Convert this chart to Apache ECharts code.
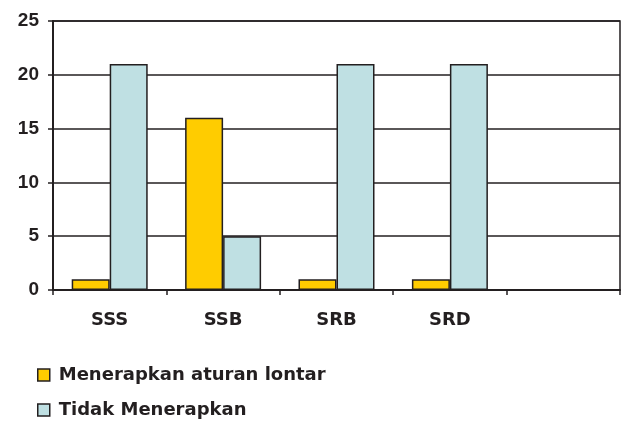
<!DOCTYPE html>
<html>
<head>
<meta charset="utf-8">
<script src="https://cdn.jsdelivr.net/npm/echarts@6/dist/echarts.min.js"></script>
<style>
html,body{margin:0;padding:0;background:#fff;}
#chart{width:628px;height:423px;}
</style>
</head>
<body>
<div id="chart"></div>
<script>
const categories = ['SSS', 'SSB', 'SRB', 'SRD', ''];
const menerapkan = [1, 16, 1, 1, null];
const tidakMenerapkan = [21, 5, 21, 21, null];
const seriesNames = ['Menerapkan aturan lontar', 'Tidak Menerapkan'];

const ink = '#231f20';
const font = '"DejaVu Sans", Arial, sans-serif';
const numFont = '"Liberation Sans", Arial, sans-serif';
const chart = echarts.init(document.getElementById('chart'), null, {renderer: 'canvas'});
chart.setOption({
  animation: false,
  backgroundColor: '#ffffff',
  grid: {left: 53, right: 8, top: 21, bottom: 133, show: true, borderColor: ink, borderWidth: 1.5},
  legend: {
    orient: 'vertical', left: 37, top: 366, height: 80, width: 400, itemWidth: 12, itemHeight: 12, itemGap: 17,
    icon: 'rect', padding: 0,
    textStyle: {fontFamily: font, fontWeight: 'bold', fontSize: 18, color: ink, padding: [0, 0, 0, 4]},
    itemStyle: {borderColor: ink, borderWidth: 1.5}
  },
  xAxis: {
    type: 'category', data: categories, boundaryGap: true,
    axisLine: {lineStyle: {color: ink, width: 2}},
    axisTick: {show: true, length: 5, inside: false, alignWithLabel: false, lineStyle: {color: ink, width: 1.5}},
    axisLabel: {fontFamily: font, fontWeight: 'bold', fontSize: 18, color: ink, margin: 21, interval: 0}
  },
  yAxis: {
    type: 'value', min: 0, max: 25, interval: 5,
    axisLine: {show: true, lineStyle: {color: ink, width: 2}},
    axisTick: {show: true, length: 5, inside: false, lineStyle: {color: ink, width: 1.5}},
    axisLabel: {fontFamily: numFont, fontWeight: 'bold', fontSize: 19, color: ink, margin: 14},
    splitLine: {show: true, lineStyle: {color: ink, width: 1.5}}
  },
  series: [
    {name: seriesNames[0], type: 'bar', data: menerapkan, barWidth: 38, barGap: '0%',
     itemStyle: {color: '#ffcc00', borderColor: ink, borderWidth: 1.5}},
    {name: seriesNames[1], type: 'bar', data: tidakMenerapkan, barWidth: 38, barGap: '0%',
     itemStyle: {color: '#bfe0e3', borderColor: ink, borderWidth: 1.5}}
  ]
});
</script>
</body>
</html>
